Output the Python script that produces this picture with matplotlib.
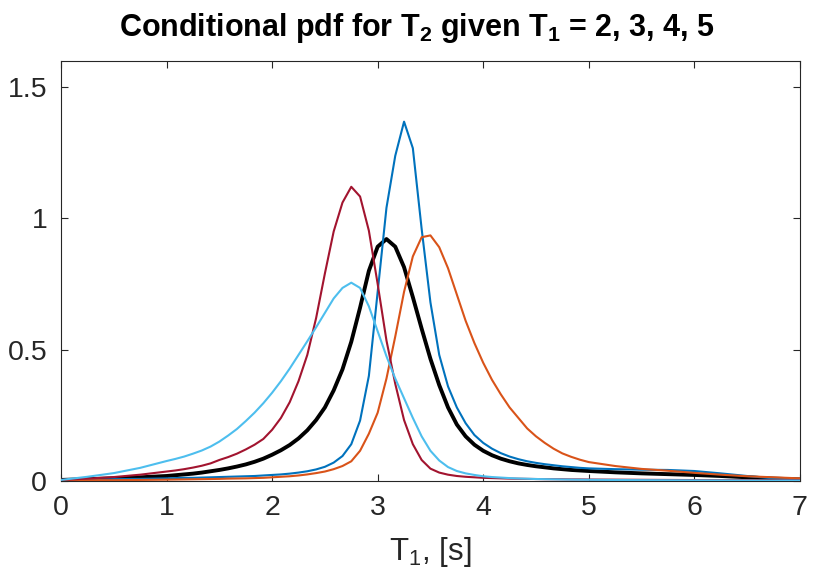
import numpy as np
import matplotlib
matplotlib.use("Agg")
import matplotlib.pyplot as plt

plt.rcParams['font.family'] = ['Liberation Sans', 'DejaVu Sans']
plt.rcParams['mathtext.fontset'] = 'custom'
plt.rcParams['mathtext.rm'] = 'Liberation Sans'
plt.rcParams['mathtext.it'] = 'Liberation Sans:italic'
plt.rcParams['mathtext.bf'] = 'Liberation Sans:bold'

# shared x positions (coarse in the far tails, 1/12 steps elsewhere)
x_left = [0, 0.25, 0.5, 0.75]
x_core = [k / 12 for k in range(12, 61)]
x_right = [5.25, 5.5, 5.75, 6.0, 6.25, 6.5, 6.75, 7.0]
x = np.array(x_left + x_core + x_right)

# marginal (black, thick)
black_vals = [0.004, 0.007, 0.010, 0.014,
              0.019, 0.022, 0.025, 0.028, 0.032, 0.037, 0.042, 0.048, 0.055, 0.063,
              0.073, 0.085, 0.100, 0.117, 0.137, 0.162, 0.193, 0.232, 0.280, 0.345,
              0.425, 0.530, 0.660, 0.800, 0.892, 0.921, 0.892, 0.814, 0.700, 0.580,
              0.465, 0.365, 0.280, 0.215, 0.170, 0.138, 0.115, 0.098, 0.085, 0.075,
              0.067, 0.061, 0.056, 0.052, 0.048, 0.045, 0.042, 0.040, 0.038,
              0.033, 0.029, 0.026, 0.023, 0.019, 0.014, 0.009, 0.006]

blue_vals = [0.003, 0.005, 0.007, 0.008,
             0.010, 0.011, 0.012, 0.012, 0.013, 0.014, 0.015, 0.016, 0.017, 0.018,
             0.019, 0.021, 0.023, 0.025, 0.028, 0.032, 0.037, 0.044, 0.054, 0.070,
             0.095, 0.140, 0.230, 0.400, 0.720, 1.040, 1.238, 1.368, 1.267, 0.960,
             0.680, 0.480, 0.360, 0.280, 0.220, 0.175, 0.145, 0.123, 0.106, 0.093,
             0.083, 0.075, 0.069, 0.064, 0.060, 0.056, 0.053, 0.050, 0.048,
             0.045, 0.043, 0.042, 0.038, 0.029, 0.019, 0.010, 0.004]

orange_vals = [0.002, 0.003, 0.003, 0.004,
               0.005, 0.0055, 0.006, 0.0065, 0.007, 0.0075, 0.008, 0.009, 0.0095, 0.010,
               0.011, 0.012, 0.014, 0.016, 0.018, 0.021, 0.025, 0.030, 0.036, 0.045,
               0.057, 0.075, 0.115, 0.180, 0.260, 0.390, 0.550, 0.720, 0.855, 0.928,
               0.935, 0.890, 0.810, 0.710, 0.610, 0.525, 0.450, 0.385, 0.330, 0.280,
               0.240, 0.200, 0.170, 0.145, 0.123, 0.105, 0.092, 0.081, 0.072,
               0.057, 0.046, 0.039, 0.031, 0.024, 0.018, 0.014, 0.010]

red_vals = [0.004, 0.009, 0.015, 0.024,
            0.036, 0.040, 0.045, 0.051, 0.058, 0.067, 0.080, 0.091, 0.104, 0.120,
            0.138, 0.160, 0.195, 0.240, 0.300, 0.380, 0.480, 0.620, 0.790, 0.950,
            1.060, 1.120, 1.083, 0.953, 0.750, 0.535, 0.370, 0.232, 0.140, 0.080,
            0.047, 0.032, 0.024, 0.019, 0.016, 0.014, 0.012, 0.011, 0.010, 0.009,
            0.0085, 0.008, 0.0075, 0.007, 0.0068, 0.0065, 0.006, 0.006, 0.0055,
            0.005, 0.0045, 0.004, 0.0035, 0.003, 0.003, 0.0025, 0.002]

lightblue_vals = [0.004, 0.016, 0.030, 0.050,
                  0.076, 0.084, 0.093, 0.104, 0.116, 0.131, 0.150, 0.173, 0.198, 0.228,
                  0.260, 0.296, 0.336, 0.380, 0.428, 0.480, 0.532, 0.585, 0.640, 0.695,
                  0.735, 0.755, 0.735, 0.665, 0.570, 0.475, 0.390, 0.315, 0.240, 0.170,
                  0.115, 0.078, 0.053, 0.038, 0.029, 0.023, 0.018, 0.015, 0.013, 0.011,
                  0.0095, 0.0085, 0.0075, 0.007, 0.0063, 0.0057, 0.0052, 0.0048, 0.0045,
                  0.0038, 0.0032, 0.0027, 0.0023, 0.002, 0.0017, 0.0014, 0.0012]

title_text = r'Conditional pdf for T$_\mathbf{2}$ given T$_\mathbf{1}$ = 2, 3, 4, 5'
xlabel_text = r'T$_\mathrm{1}$, [s]'
xticks = [0, 1, 2, 3, 4, 5, 6, 7]
yticks = [0, 0.5, 1, 1.5]
yticklabels = ['0', '0.5', '1', '1.5']

fig = plt.figure(figsize=(8.17, 5.85), dpi=100)
ax = fig.add_axes([0.0747, 0.1778, 0.9043, 0.7184])

ax.plot(x, black_vals, color='black', lw=2.8, zorder=2)
ax.plot(x, blue_vals, color='#0072BD', lw=1.5, zorder=3)
ax.plot(x, orange_vals, color='#D95319', lw=1.5, zorder=3)
ax.plot(x, red_vals, color='#A2142F', lw=1.5, zorder=3)
ax.plot(x, lightblue_vals, color='#4DBEEE', lw=1.5, zorder=3)

ax.set_xlim(0, 7)
ax.set_ylim(0, 1.6)
ax.set_xticks(xticks)
ax.set_yticks(yticks)
ax.set_yticklabels(yticklabels)

c = '#262626'
for s in ax.spines.values():
    s.set_color(c)
    s.set_linewidth(0.8)
ax.tick_params(direction='in', length=5, width=0.8, colors=c, labelsize=20.5,
               top=True, right=True)
ax.tick_params(axis='x', pad=10)
ax.tick_params(axis='y', pad=10)
for lab in ax.get_xticklabels() + ax.get_yticklabels():
    lab.set_color(c)

ax.set_title(title_text, fontsize=22, fontweight='bold', pad=18, x=0.481)
ax.set_xlabel(xlabel_text, fontsize=22.5, color=c, labelpad=10)

fig.savefig('out.png', dpi=100)
